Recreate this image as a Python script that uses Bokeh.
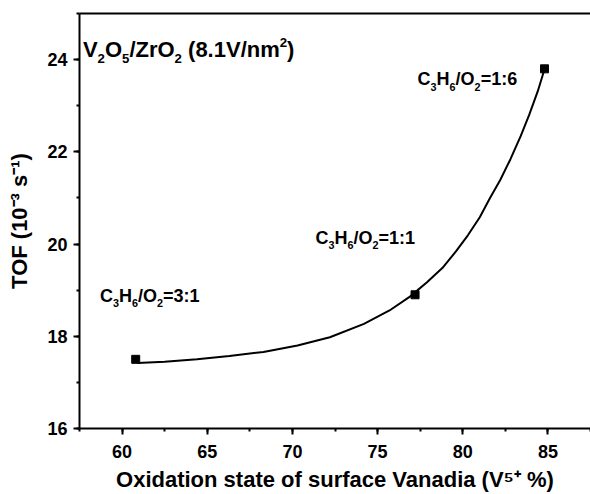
from bokeh.plotting import figure
from bokeh.models import LinearAxis, SingleIntervalTicker, Range1d, FixedTicker
from bokeh.core.properties import value
from bokeh.embed import file_html
from bokeh.resources import INLINE

# Measured points: V5+ fraction (%) vs TOF (10^-3 s^-1)
v5_percent = [60.8, 77.2, 84.8]
tof = [17.5, 18.9, 23.8]
feed_ratios = ["3:1", "1:1", "1:6"]

# Exponential trend line, sampled along the fitted curve
fit_x = [60.9, 62.5, 64.4, 66.3, 68.3, 70.3, 72.2, 74.2, 75.7, 76.9, 77.9,
         78.8, 79.6, 80.3, 81.0, 81.6, 82.2, 82.8, 83.4, 83.9, 84.4, 84.8]
fit_y = [17.42, 17.45, 17.50, 17.57, 17.66, 17.80, 17.98, 18.27, 18.56, 18.86, 19.17,
         19.48, 19.84, 20.19, 20.58, 21.00, 21.39, 21.84, 22.34, 22.80, 23.31, 23.79]

# Anchor points (left end of the baseline) for the feed-ratio annotations
label_x = [58.7, 71.35, 77.35]
label_y = [18.88, 20.14, 23.57]

x_title = "Oxidation state of surface Vanadia (V\u2075\u207a %)"
y_title = "TOF (10\u207b\u00b3 s\u207b\u00b9)"

FONT = "Liberation Sans"

# Advance widths of the bold sans face (per 1000 em), used to lay out
# formulas piece by piece with real sub- and superscripts.
ADV = {" ": 278, "(": 333, ")": 333, ".": 278, "/": 278, ":": 333, "=": 584,
       "+": 584, "%": 889, "C": 722, "H": 722, "O": 778, "V": 667, "Z": 611,
       "r": 389, "n": 611, "m": 889}
for d in "0123456789":
    ADV[d] = 556

p = figure(width=590, height=494, output_backend="svg", toolbar_location=None,
           x_range=Range1d(57.5, 87.5), y_range=Range1d(16, 25),
           x_axis_type=None, y_axis_type=None,
           min_border_left=79, min_border_right=0, min_border_top=13, min_border_bottom=66)
p.outline_line_color = None
p.xgrid.visible = False
p.ygrid.visible = False
p.background_fill_color = "white"
p.border_fill_color = "white"


def style_axis(ax):
    ax.axis_line_width = 2
    ax.axis_line_color = "black"
    ax.major_tick_line_width = 2
    ax.minor_tick_line_width = 2
    ax.major_tick_in = 0
    ax.major_tick_out = 6
    ax.minor_tick_in = 0
    ax.minor_tick_out = 3
    ax.major_label_text_font = FONT
    ax.major_label_text_font_style = "bold"
    ax.major_label_text_font_size = "18px"
    ax.major_label_text_color = "black"
    ax.axis_label_text_font = FONT
    ax.axis_label_text_font_style = "bold"
    ax.axis_label_text_font_size = "22px"
    ax.axis_label_text_color = "black"


xaxis = LinearAxis(ticker=SingleIntervalTicker(interval=5, num_minor_ticks=2),
                   axis_label=x_title)
style_axis(xaxis)
xaxis.major_label_standoff = 10
xaxis.axis_label_standoff = 6
p.add_layout(xaxis, "below")

yaxis = LinearAxis(ticker=SingleIntervalTicker(interval=2, num_minor_ticks=2),
                   axis_label=y_title)
style_axis(yaxis)
yaxis.major_label_standoff = 6
yaxis.axis_label_standoff = 12
p.add_layout(yaxis, "left")

# Plain top border line
top = LinearAxis(ticker=FixedTicker(ticks=[]))
top.axis_line_width = 2
top.axis_line_color = "black"
top.major_tick_out = 0
top.minor_tick_out = 0
top.major_label_standoff = 0
p.add_layout(top, "above")

p.line(fit_x, fit_y, line_color="black", line_width=2)
p.scatter(v5_percent, tof, marker="square", size=8, fill_color="black", line_color="black")


def text_width(txt, fs):
    return sum(ADV.get(c, 556) for c in txt) / 1000.0 * fs


def rich_text(x, y, segments, size):
    """Draw a formula as consecutive text pieces; kind is 'base', 'sub' or 'sup'."""
    off = 0.0
    for txt, kind in segments:
        fs = size * 0.6 if kind != "base" else size
        dy = {"base": 0.0, "sub": 0.4 * size, "sup": -0.3 * size}[kind]
        # leading blanks are collapsed in SVG text, so advance past them here
        body = txt.lstrip(" ")
        off += text_width(txt[:len(txt) - len(body)], fs)
        p.text(x=[x], y=[y], text=[body], x_offset=off, y_offset=dy,
               text_font=value(FONT), text_font_style="bold", text_font_size=f"{fs:.1f}px",
               text_color="black", text_align="left", text_baseline="alphabetic")
        off += text_width(body, fs)


for lx, ly, ratio in zip(label_x, label_y, feed_ratios):
    rich_text(lx, ly, [("C", "base"), ("3", "sub"), ("H", "base"), ("6", "sub"),
                       ("/O", "base"), ("2", "sub"), ("=" + ratio, "base")], 18)

rich_text(57.7, 24.22, [("V", "base"), ("2", "sub"), ("O", "base"), ("5", "sub"),
                        ("/ZrO", "base"), ("2", "sub"), (" (8.1V/nm", "base"),
                        ("2", "sup"), (")", "base")], 22)

open("out.html", "w").write(file_html(p, INLINE))
